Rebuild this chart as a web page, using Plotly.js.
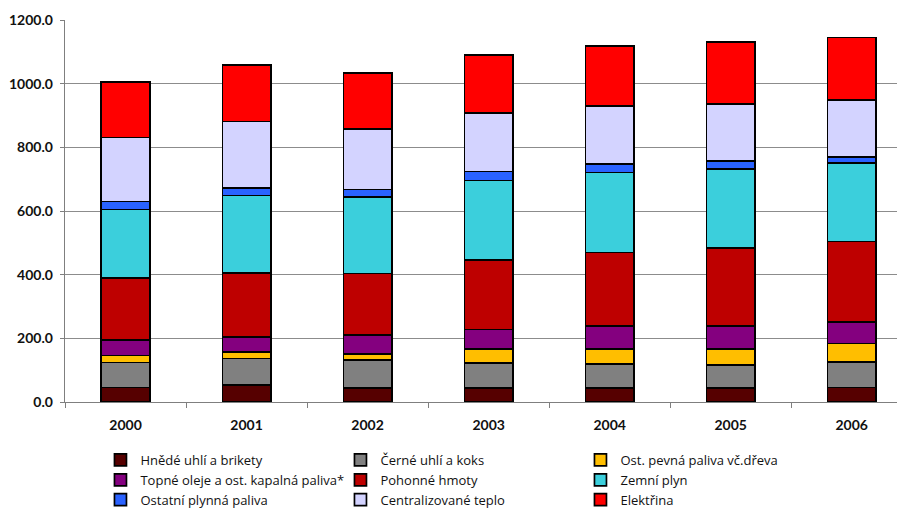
<!DOCTYPE html>
<html>
<head>
<meta charset="utf-8">
<script src="https://cdn.plot.ly/plotly-3.0.1.min.js"></script>
<style>
  html, body { margin: 0; padding: 0; background: #fff; }
  #chart { width: 897px; height: 512px; }
</style>
</head>
<body>
<div id="chart"></div>
<script>
// Years on the category axis
const years = ['2000', '2001', '2002', '2003', '2004', '2005', '2006'];

// Consumption by energy carrier, stacked bottom to top
const hnedeUhli      = [46, 53, 45, 43, 43, 43, 46];
const cerneUhli      = [78, 84, 86, 79, 76, 73, 80];
const ostPevna       = [22, 20, 19, 44, 47, 50, 58];
const topneOleje     = [48, 48, 61, 62, 73, 72, 67];
const pohonneHmoty   = [196, 200, 193, 218, 231, 246, 253];
const zemniPlyn      = [215, 244, 241, 250, 251, 249, 246];
const ostPlynna      = [25, 23, 23, 28, 27, 24, 20];
const centrTeplo     = [201, 209, 189, 183, 182, 180, 178];
const elektrina      = [174, 177, 177, 183, 189, 195, 197];

const seriesNames = [
  'Hnědé uhlí a brikety',
  'Černé uhlí a koks',
  'Ost. pevná paliva vč.dřeva',
  'Topné oleje a ost. kapalná paliva*',
  'Pohonné hmoty',
  'Zemní plyn',
  'Ostatní plynná paliva',
  'Centralizované teplo',
  'Elektřina'
];
const seriesValues = [
  hnedeUhli, cerneUhli, ostPevna, topneOleje, pohonneHmoty,
  zemniPlyn, ostPlynna, centrTeplo, elektrina
];
const seriesColors = [
  '#560000', '#808080', '#FFBE00', '#84007F', '#BE0000',
  '#3BCFDC', '#2A62FF', '#D3D3FF', '#FF0000'
];

const traces = seriesNames.map((name, i) => ({
  type: 'bar',
  name: name,
  x: years,
  y: seriesValues[i],
  marker: {
    color: seriesColors[i],
    line: { color: '#000000', width: 1.7 }
  },
  hoverinfo: 'x+y+name'
}));

const axisFont = { family: 'Lato, "Liberation Sans", sans-serif', size: 14, color: '#111', weight: 'bold' };

const layout = {
  width: 897,
  height: 512,
  margin: { l: 65, r: 0, t: 20, b: 110 },
  paper_bgcolor: '#ffffff',
  plot_bgcolor: '#ffffff',
  barmode: 'stack',
  bargap: 0.6,
  showlegend: true,
  xaxis: {
    type: 'category',
    range: [-0.5, 6.374],
    showline: true,
    linecolor: '#7f7f7f',
    linewidth: 1.3,
    ticks: 'outside',
    tickson: 'boundaries',
    ticklen: 5,
    tickcolor: '#7f7f7f',
    ticklabelstandoff: 10,
    showgrid: false,
    tickfont: axisFont,
    fixedrange: true
  },
  yaxis: {
    range: [0, 1200],
    dtick: 200,
    tick0: 0,
    tickformat: '.1f',
    showline: true,
    linecolor: '#7f7f7f',
    linewidth: 1.3,
    ticks: 'outside',
    ticklen: 4,
    tickcolor: '#7f7f7f',
    ticklabelstandoff: 4,
    showgrid: true,
    gridcolor: '#8c8c8c',
    gridwidth: 1,
    zeroline: false,
    tickfont: axisFont,
    fixedrange: true
  },
  legend: {
    orientation: 'h',
    traceorder: 'normal',
    xref: 'container',
    yref: 'container',
    x: 0.112,
    xanchor: 'left',
    y: 0.131,
    yanchor: 'top',
    entrywidth: 195,
    font: { family: '"Open Sans", "Liberation Sans", sans-serif', size: 13, color: '#111' },
    bgcolor: 'rgba(0,0,0,0)'
  }
};

Plotly.newPlot('chart', traces, layout, { displayModeBar: false, staticPlot: true });
</script>
</body>
</html>
